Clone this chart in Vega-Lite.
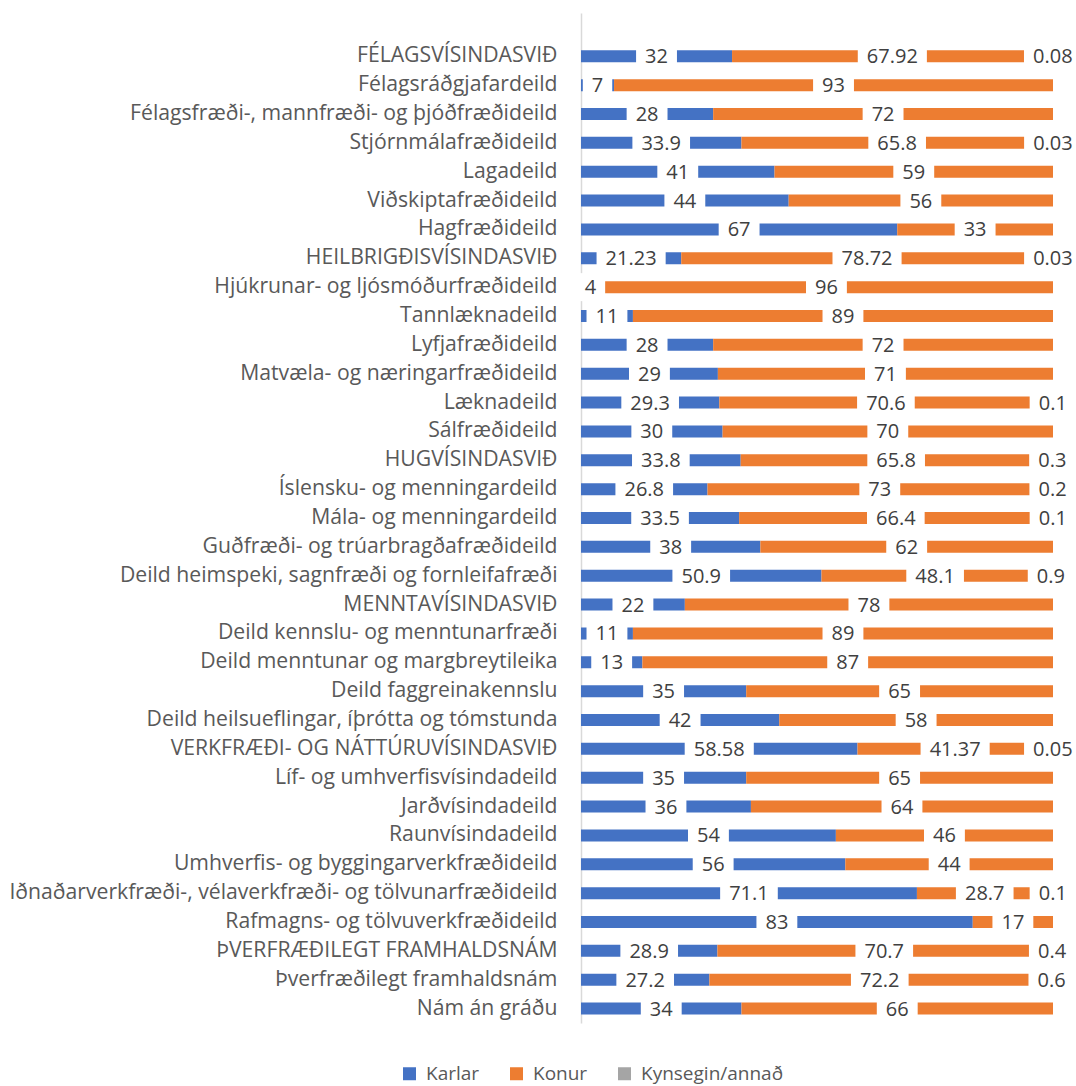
{
  "$schema": "https://vega.github.io/schema/vega-lite/v6.json",
  "width": 472,
  "height": 1010,
  "autosize": "none",
  "padding": {"left": 581, "top": 13, "right": 23, "bottom": 63},
  "background": "white",
  "config": {"font": "Open Sans", "view": {"stroke": null}},
  "data": {"values": [
    {"category": "FÉLAGSVÍSINDASVIÐ", "group": "Karlar", "value": 32},
    {"category": "FÉLAGSVÍSINDASVIÐ", "group": "Konur", "value": 67.92},
    {"category": "FÉLAGSVÍSINDASVIÐ", "group": "Kynsegin/annað", "value": 0.08},
    {"category": "Félagsráðgjafardeild", "group": "Karlar", "value": 7},
    {"category": "Félagsráðgjafardeild", "group": "Konur", "value": 93},
    {"category": "Félagsfræði-, mannfræði- og þjóðfræðideild", "group": "Karlar", "value": 28},
    {"category": "Félagsfræði-, mannfræði- og þjóðfræðideild", "group": "Konur", "value": 72},
    {"category": "Stjórnmálafræðideild", "group": "Karlar", "value": 33.9},
    {"category": "Stjórnmálafræðideild", "group": "Konur", "value": 65.8},
    {"category": "Stjórnmálafræðideild", "group": "Kynsegin/annað", "value": 0.03},
    {"category": "Lagadeild", "group": "Karlar", "value": 41},
    {"category": "Lagadeild", "group": "Konur", "value": 59},
    {"category": "Viðskiptafræðideild", "group": "Karlar", "value": 44},
    {"category": "Viðskiptafræðideild", "group": "Konur", "value": 56},
    {"category": "Hagfræðideild", "group": "Karlar", "value": 67},
    {"category": "Hagfræðideild", "group": "Konur", "value": 33},
    {"category": "HEILBRIGÐISVÍSINDASVIÐ", "group": "Karlar", "value": 21.23},
    {"category": "HEILBRIGÐISVÍSINDASVIÐ", "group": "Konur", "value": 78.72},
    {"category": "HEILBRIGÐISVÍSINDASVIÐ", "group": "Kynsegin/annað", "value": 0.03},
    {"category": "Hjúkrunar- og ljósmóðurfræðideild", "group": "Karlar", "value": 4},
    {"category": "Hjúkrunar- og ljósmóðurfræðideild", "group": "Konur", "value": 96},
    {"category": "Tannlæknadeild", "group": "Karlar", "value": 11},
    {"category": "Tannlæknadeild", "group": "Konur", "value": 89},
    {"category": "Lyfjafræðideild", "group": "Karlar", "value": 28},
    {"category": "Lyfjafræðideild", "group": "Konur", "value": 72},
    {"category": "Matvæla- og næringarfræðideild", "group": "Karlar", "value": 29},
    {"category": "Matvæla- og næringarfræðideild", "group": "Konur", "value": 71},
    {"category": "Læknadeild", "group": "Karlar", "value": 29.3},
    {"category": "Læknadeild", "group": "Konur", "value": 70.6},
    {"category": "Læknadeild", "group": "Kynsegin/annað", "value": 0.1},
    {"category": "Sálfræðideild", "group": "Karlar", "value": 30},
    {"category": "Sálfræðideild", "group": "Konur", "value": 70},
    {"category": "HUGVÍSINDASVIÐ", "group": "Karlar", "value": 33.8},
    {"category": "HUGVÍSINDASVIÐ", "group": "Konur", "value": 65.8},
    {"category": "HUGVÍSINDASVIÐ", "group": "Kynsegin/annað", "value": 0.3},
    {"category": "Íslensku- og menningardeild", "group": "Karlar", "value": 26.8},
    {"category": "Íslensku- og menningardeild", "group": "Konur", "value": 73},
    {"category": "Íslensku- og menningardeild", "group": "Kynsegin/annað", "value": 0.2},
    {"category": "Mála- og menningardeild", "group": "Karlar", "value": 33.5},
    {"category": "Mála- og menningardeild", "group": "Konur", "value": 66.4},
    {"category": "Mála- og menningardeild", "group": "Kynsegin/annað", "value": 0.1},
    {"category": "Guðfræði- og trúarbragðafræðideild", "group": "Karlar", "value": 38},
    {"category": "Guðfræði- og trúarbragðafræðideild", "group": "Konur", "value": 62},
    {"category": "Deild heimspeki, sagnfræði og fornleifafræði", "group": "Karlar", "value": 50.9},
    {"category": "Deild heimspeki, sagnfræði og fornleifafræði", "group": "Konur", "value": 48.1},
    {"category": "Deild heimspeki, sagnfræði og fornleifafræði", "group": "Kynsegin/annað", "value": 0.9},
    {"category": "MENNTAVÍSINDASVIÐ", "group": "Karlar", "value": 22},
    {"category": "MENNTAVÍSINDASVIÐ", "group": "Konur", "value": 78},
    {"category": "Deild kennslu- og menntunarfræði", "group": "Karlar", "value": 11},
    {"category": "Deild kennslu- og menntunarfræði", "group": "Konur", "value": 89},
    {"category": "Deild menntunar og margbreytileika", "group": "Karlar", "value": 13},
    {"category": "Deild menntunar og margbreytileika", "group": "Konur", "value": 87},
    {"category": "Deild faggreinakennslu", "group": "Karlar", "value": 35},
    {"category": "Deild faggreinakennslu", "group": "Konur", "value": 65},
    {"category": "Deild heilsueflingar, íþrótta og tómstunda", "group": "Karlar", "value": 42},
    {"category": "Deild heilsueflingar, íþrótta og tómstunda", "group": "Konur", "value": 58},
    {"category": "VERKFRÆÐI- OG NÁTTÚRUVÍSINDASVIÐ", "group": "Karlar", "value": 58.58},
    {"category": "VERKFRÆÐI- OG NÁTTÚRUVÍSINDASVIÐ", "group": "Konur", "value": 41.37},
    {"category": "VERKFRÆÐI- OG NÁTTÚRUVÍSINDASVIÐ", "group": "Kynsegin/annað", "value": 0.05},
    {"category": "Líf- og umhverfisvísindadeild", "group": "Karlar", "value": 35},
    {"category": "Líf- og umhverfisvísindadeild", "group": "Konur", "value": 65},
    {"category": "Jarðvísindadeild", "group": "Karlar", "value": 36},
    {"category": "Jarðvísindadeild", "group": "Konur", "value": 64},
    {"category": "Raunvísindadeild", "group": "Karlar", "value": 54},
    {"category": "Raunvísindadeild", "group": "Konur", "value": 46},
    {"category": "Umhverfis- og byggingarverkfræðideild", "group": "Karlar", "value": 56},
    {"category": "Umhverfis- og byggingarverkfræðideild", "group": "Konur", "value": 44},
    {"category": "Iðnaðarverkfræði-, vélaverkfræði- og tölvunarfræðideild", "group": "Karlar", "value": 71.1},
    {"category": "Iðnaðarverkfræði-, vélaverkfræði- og tölvunarfræðideild", "group": "Konur", "value": 28.7},
    {"category": "Iðnaðarverkfræði-, vélaverkfræði- og tölvunarfræðideild", "group": "Kynsegin/annað", "value": 0.1},
    {"category": "Rafmagns- og tölvuverkfræðideild", "group": "Karlar", "value": 83},
    {"category": "Rafmagns- og tölvuverkfræðideild", "group": "Konur", "value": 17},
    {"category": "ÞVERFRÆÐILEGT FRAMHALDSNÁM", "group": "Karlar", "value": 28.9},
    {"category": "ÞVERFRÆÐILEGT FRAMHALDSNÁM", "group": "Konur", "value": 70.7},
    {"category": "ÞVERFRÆÐILEGT FRAMHALDSNÁM", "group": "Kynsegin/annað", "value": 0.4},
    {"category": "Þverfræðilegt framhaldsnám", "group": "Karlar", "value": 27.2},
    {"category": "Þverfræðilegt framhaldsnám", "group": "Konur", "value": 72.2},
    {"category": "Þverfræðilegt framhaldsnám", "group": "Kynsegin/annað", "value": 0.6},
    {"category": "Nám án gráðu", "group": "Karlar", "value": 34},
    {"category": "Nám án gráðu", "group": "Konur", "value": 66}
  ]},
  "transform": [
    {"stack": "value", "groupby": ["category"], "sort": [{"field": "group", "order": "ascending"}], "as": ["x0", "x1"], "offset": "normalize"},
    {"calculate": "(datum.x0 + datum.x1) / 2", "as": "mid"},
    {"calculate": "(length(toString(datum.value)) * 11.44 - (indexof(toString(datum.value), '.') >= 0 ? 6.1 : 0) + 18) / 472", "as": "tw"},
    {"calculate": "datum.mid - datum.tw / 2", "as": "bx0"},
    {"calculate": "datum.mid + datum.tw / 2", "as": "bx1"}
  ],
  "encoding": {
    "y": {
      "field": "category", "type": "nominal", "sort": null,
      "scale": {"domain": [" ", "FÉLAGSVÍSINDASVIÐ", "Félagsráðgjafardeild", "Félagsfræði-, mannfræði- og þjóðfræðideild", "Stjórnmálafræðideild", "Lagadeild", "Viðskiptafræðideild", "Hagfræðideild", "HEILBRIGÐISVÍSINDASVIÐ", "Hjúkrunar- og ljósmóðurfræðideild", "Tannlæknadeild", "Lyfjafræðideild", "Matvæla- og næringarfræðideild", "Læknadeild", "Sálfræðideild", "HUGVÍSINDASVIÐ", "Íslensku- og menningardeild", "Mála- og menningardeild", "Guðfræði- og trúarbragðafræðideild", "Deild heimspeki, sagnfræði og fornleifafræði", "MENNTAVÍSINDASVIÐ", "Deild kennslu- og menntunarfræði", "Deild menntunar og margbreytileika", "Deild faggreinakennslu", "Deild heilsueflingar, íþrótta og tómstunda", "VERKFRÆÐI- OG NÁTTÚRUVÍSINDASVIÐ", "Líf- og umhverfisvísindadeild", "Jarðvísindadeild", "Raunvísindadeild", "Umhverfis- og byggingarverkfræðideild", "Iðnaðarverkfræði-, vélaverkfræði- og tölvunarfræðideild", "Rafmagns- og tölvuverkfræðideild", "ÞVERFRÆÐILEGT FRAMHALDSNÁM", "Þverfræðilegt framhaldsnám", "Nám án gráðu"], "paddingInner": 0, "paddingOuter": 0},
      "axis": {"title": null, "ticks": false, "labelPadding": 24, "labelFontSize": 21.2, "labelColor": "#595959", "labelLimit": 700, "domainColor": "#D9D9D9", "domainWidth": 1.5, "grid": false}
    }
  },
  "layer": [
    {
      "mark": {"type": "bar", "size": 12},
      "encoding": {
        "x": {"field": "x0", "type": "quantitative", "scale": {"domain": [0, 1], "nice": false}, "axis": null},
        "x2": {"field": "x1"},
        "color": {"field": "group", "type": "nominal",
          "scale": {"domain": ["Karlar", "Konur", "Kynsegin/annað"], "range": ["#4472C4", "#ED7D31", "#A5A5A5"]},
          "legend": {"title": null, "orient": "none", "direction": "horizontal", "legendX": -181, "legendY": 1051, "symbolType": "square", "symbolSize": 169, "symbolStrokeWidth": 0, "labelFontSize": 19, "labelColor": "#595959", "labelOffset": 7, "columnPadding": 27}
        }
      }
    },
    {
      "mark": {"type": "bar", "size": 28, "color": "white"},
      "encoding": {
        "x": {"field": "bx0", "type": "quantitative"},
        "x2": {"field": "bx1"}
      }
    },
    {
      "mark": {"type": "text", "fontSize": 20, "color": "#404040", "align": "center", "baseline": "middle", "dy": 1},
      "encoding": {
        "x": {"field": "mid", "type": "quantitative"},
        "text": {"field": "value", "type": "quantitative"}
      }
    }
  ]
}
